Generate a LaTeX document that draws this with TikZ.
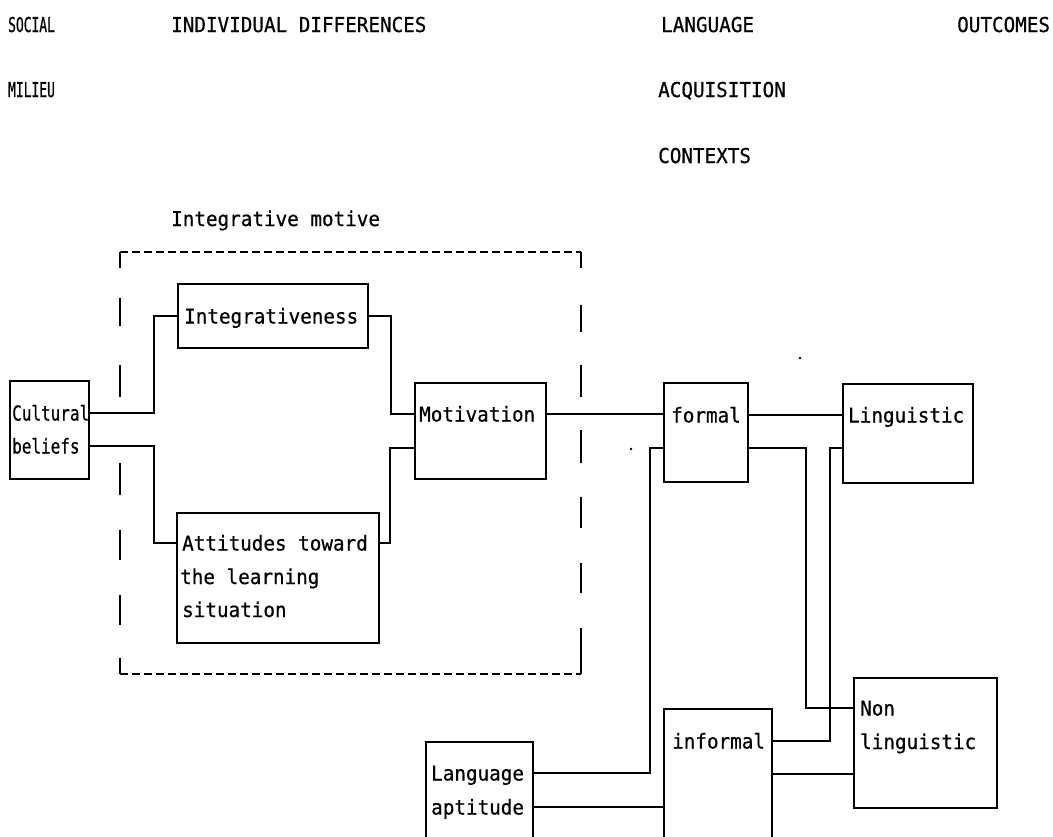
\documentclass[tikz,border=0pt]{standalone}
\usepackage{fontspec}
\newfontfamily\twfont[FakeStretch=0.94,FakeBold=0.6]{DejaVu Sans Mono}
\newfontfamily\twnarrow[FakeStretch=0.78,FakeBold=0.6]{DejaVu Sans Mono}
\newfontfamily\twslim[FakeStretch=0.63,FakeBold=0.6]{DejaVu Sans Mono}
\begin{document}
\begin{tikzpicture}[x=1pt,y=-1pt,
  box/.style={draw, line width=2.1pt, inner sep=0pt, anchor=north west},
  lbl/.style={anchor=base west, inner sep=0pt, text height=15pt, text depth=0pt,
              font=\twfont\fontsize{20.5}{33}\selectfont},
  lblnarrow/.style={lbl, font=\twnarrow\fontsize{20.5}{33}\selectfont},
  lblslim/.style={lbl, font=\twslim\fontsize{20.5}{33}\selectfont},
  link/.style={line width=2.1pt, line join=miter},
  framepart/.style={line width=1.8pt},
  framedash/.style={line width=1.8pt, dash pattern=on 8pt off 4pt}]

\useasboundingbox (0,0) rectangle (1053,836);
\clip (0,0) rectangle (1053,836);

% column headings
\node[lblslim] (hSocial) at (8,32) {SOCIAL};
\node[lblslim] (hMilieu) at (8,97) {MILIEU};
\node[lbl] (hIndiv) at (171,32) {INDIVIDUAL DIFFERENCES};
\node[lbl] (hLang1) at (661,32) {LANGUAGE};
\node[lbl] (hLang2) at (658,97) {ACQUISITION};
\node[lbl] (hLang3) at (658,163) {CONTEXTS};
\node[lbl] (hOut) at (957,32) {OUTCOMES};

% integrative motive frame
\node[lbl] (hMotive) at (171,226) {Integrative motive};
\draw[framedash] (120,252) -- (581,252);
\draw[framedash] (120,674) -- (581,674);
\draw[framepart] (120,268) -- (120,252) (581,252) -- (581,268);
\foreach \a/\b in {298/326, 365/397, 463/495, 530/560, 595/625, 658/674}
  \draw[framepart] (120,\a) -- (120,\b);
\foreach \a/\b in {305/332, 365/397, 430/463, 497/528, 563/593, 628/674}
  \draw[framepart] (581,\a) -- (581,\b);

% boxes
\node[box, minimum width=79, minimum height=98] (cult) at (9,380) {};
\node[box, minimum width=190, minimum height=64] (integ) at (177,283) {};
\node[box, minimum width=202, minimum height=130] (att) at (176,512) {};
\node[box, minimum width=131, minimum height=96] (motiv) at (414,382) {};
\node[box, minimum width=84, minimum height=99] (formal) at (663,382) {};
\node[box, minimum width=130, minimum height=99] (ling) at (842,383) {};
\node[box, minimum width=107, minimum height=130] (lang) at (425,741) {};
\node[box, minimum width=108, minimum height=160] (inf) at (663,708) {};
\node[box, minimum width=143, minimum height=130] (nonling) at (853,677) {};

% box texts
\node[lblnarrow] (tCult1) at (12,420.5) {Cultural};
\node[lblnarrow] (tCult2) at (12,453.5) {beliefs};
\node[lbl] (tInteg) at (184,323.5) {Integrativeness};
\node[lbl] (tAtt1) at (182,550.5) {Attitudes toward};
\node[lbl] (tAtt2) at (180,584) {the learning};
\node[lbl] (tAtt3) at (182,617) {situation};
\node[lbl] (tMotiv) at (419,421.5) {Motivation};
\node[lbl] (tFormal) at (671,422.5) {formal};
\node[lbl] (tLing) at (848,422.5) {Linguistic};
\node[lbl] (tLang1) at (431,780.5) {Language};
\node[lbl] (tLang2) at (431,814.5) {aptitude};
\node[lbl] (tInf) at (672,748.5) {informal};
\node[lbl] (tNon1) at (860,715.5) {Non};
\node[lbl] (tNon2) at (860,749) {linguistic};

% routing levels and bends
\coordinate (lvlB) at (0,448);
\coordinate (lvlC) at (0,774);
\coordinate (j1) at (154,0);
\coordinate (j3) at (391,0);
\coordinate (j4) at (390,0);
\coordinate (j7) at (650,0);
\coordinate (j8) at (806,0);
\coordinate (j9) at (830,0);

% connectors
\draw[link] (cult.east |- tCult1) -- (j1 |- tCult1) -- (j1 |- tInteg) -- (integ.west |- tInteg);
\draw[link] (cult.east |- tCult2) -- (j1 |- tCult2) -- (j1 |- tAtt1) -- (att.west |- tAtt1);
\draw[link] (integ.east |- tInteg) -- (j3 |- tInteg) -- (j3 |- tMotiv) -- (motiv.west |- tMotiv);
\draw[link] (att.east |- tAtt1) -- (j4 |- tAtt1) -- (j4 |- lvlB) -- (motiv.west |- lvlB);
\draw[link] (motiv.east |- tMotiv) -- (formal.west |- tMotiv);
\draw[link] (formal.east |- tFormal) -- (ling.west |- tFormal);
\draw[link] (formal.west |- lvlB) -- (j7 |- lvlB) -- (j7 |- tLang1) -- (lang.east |- tLang1);
\draw[link] (formal.east |- lvlB) -- (j8 |- lvlB) -- (j8 |- tNon1) -- (nonling.west |- tNon1);
\draw[link] (ling.west |- lvlB) -- (j9 |- lvlB) -- (j9 |- tInf) -- (inf.east |- tInf);
\draw[link] (lang.east |- tLang2) -- (inf.west |- tLang2);
\draw[link] (inf.east |- lvlC) -- (nonling.west |- lvlC);

% stray typewriter points
\fill (631,449) circle (1.4);
\fill (800,358) circle (1.4);
\end{tikzpicture}
\end{document}
